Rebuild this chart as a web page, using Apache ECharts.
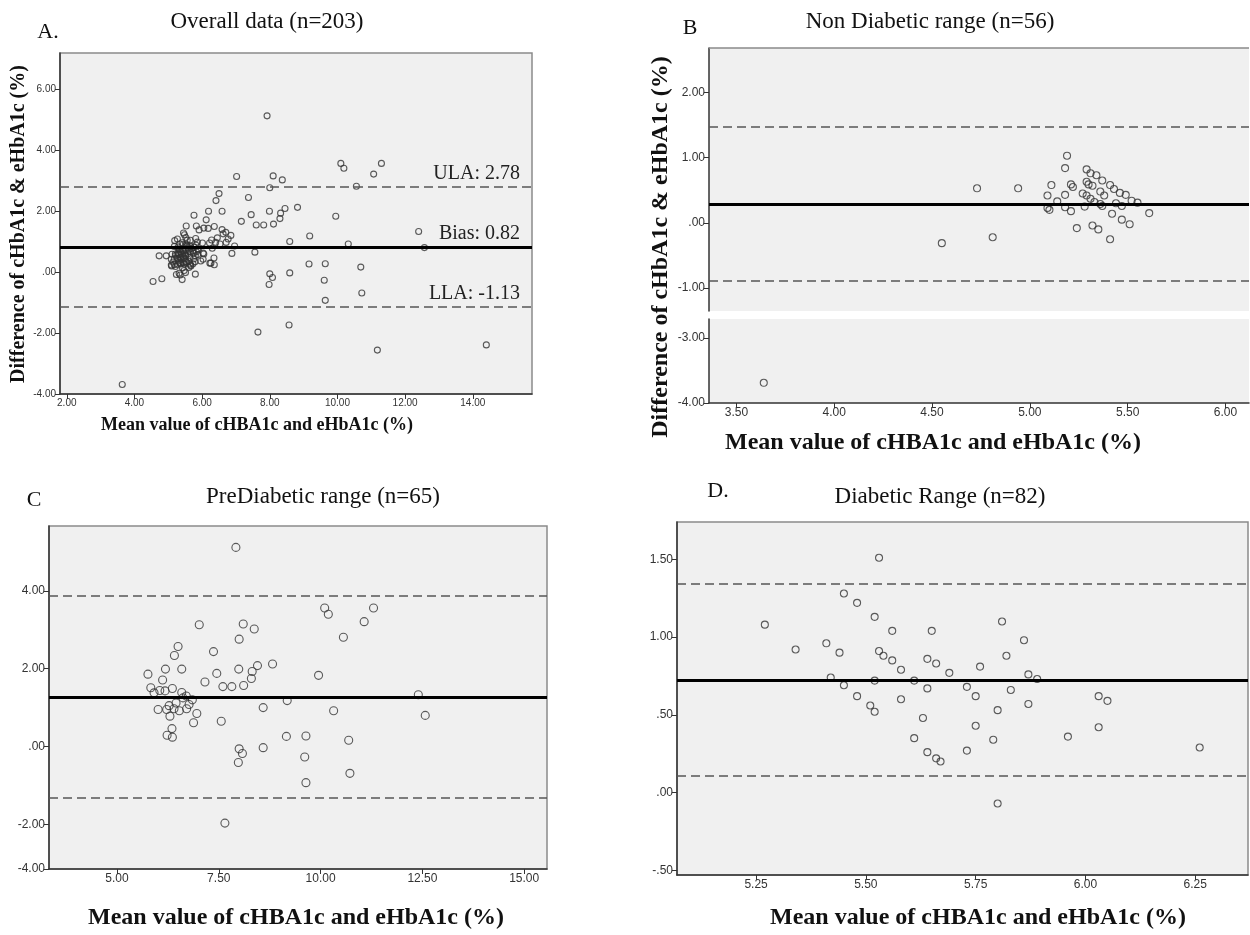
<!DOCTYPE html>
<html>
<head>
<meta charset="utf-8">
<script src="https://cdn.jsdelivr.net/npm/echarts@6/dist/echarts.min.js"></script>
<style>
html, body { margin: 0; padding: 0; background: #fff; }
#chart { width: 1250px; height: 935px; }
</style>
</head>
<body>
<div id="chart"></div>
<script>
// points are [mean, difference]
const nonDiabetic = [
  [5.19, 1.03], [5.18, 0.84], [4.73, 0.53], [4.94, 0.53], [5.11, 0.58], [5.09, 0.42], [5.14, 0.33],
  [5.09, 0.23], [5.10, 0.20], [5.18, 0.24], [5.21, 0.18], [5.18, 0.43], [5.21, 0.59], [5.22, 0.55],
  [5.29, 0.82], [5.31, 0.76], [5.34, 0.73], [5.29, 0.63], [5.30, 0.59], [5.32, 0.57], [5.37, 0.65],
  [5.41, 0.58], [5.43, 0.52], [5.46, 0.46], [5.49, 0.43], [5.36, 0.48], [5.38, 0.42], [5.27, 0.45],
  [5.29, 0.42], [5.31, 0.37], [5.33, 0.32], [5.36, 0.29], [5.37, 0.26], [5.28, 0.25], [5.44, 0.30],
  [5.47, 0.26], [5.52, 0.34], [5.55, 0.31], [5.61, 0.15], [5.42, 0.14], [5.47, 0.05], [5.51, -0.02],
  [5.24, -0.08], [5.32, -0.04], [5.35, -0.10], [4.55, -0.31], [4.81, -0.22], [5.41, -0.25],
  [3.64, -3.69]
];
const preDiabetic = [
  [7.92, 5.12], [7.02, 3.13], [8.10, 3.15], [8.37, 3.02], [8.00, 2.76], [7.37, 2.44], [6.50, 2.57],
  [6.41, 2.34], [5.76, 1.86], [6.19, 1.99], [6.59, 1.99], [6.12, 1.71], [7.16, 1.66], [7.45, 1.88],
  [7.99, 1.99], [8.32, 1.93], [8.45, 2.08], [8.82, 2.12], [7.60, 1.54], [7.82, 1.54], [8.11, 1.57],
  [8.30, 1.75], [9.95, 1.83], [5.83, 1.51], [6.05, 1.44], [6.18, 1.43], [6.36, 1.49], [6.59, 1.39],
  [5.91, 1.38], [9.18, 1.18], [8.59, 1.00], [10.10, 3.56], [10.19, 3.40], [11.30, 3.56], [11.07, 3.21],
  [10.56, 2.81], [12.40, 1.33], [10.32, 0.92], [6.01, 0.95], [6.22, 0.95], [6.40, 0.97], [6.53, 0.92],
  [6.71, 0.97], [6.30, 0.78], [6.88, 0.61], [6.96, 0.85], [6.23, 0.29], [6.35, 0.46], [6.36, 0.24],
  [7.56, 0.65], [9.16, 0.26], [9.64, 0.27], [8.00, -0.06], [8.08, -0.18], [7.98, -0.41], [8.59, -0.03],
  [9.61, -0.27], [9.64, -0.93], [7.65, -1.97], [12.57, 0.80], [10.69, 0.16], [10.72, -0.69],
  [6.77, 1.08], [6.62, 1.25], [6.45, 1.12], [6.85, 1.20], [6.28, 1.05], [6.70, 1.30]
];
const diabetic = [
  [5.27, 1.08], [5.34, 0.92], [5.41, 0.96], [5.42, 0.74], [5.44, 0.90], [5.45, 1.28], [5.45, 0.69],
  [5.48, 1.22], [5.48, 0.62], [5.51, 0.56], [5.52, 0.72], [5.52, 1.13], [5.52, 0.52], [5.53, 1.51],
  [5.53, 0.91], [5.54, 0.88], [5.56, 1.04], [5.56, 0.85], [5.58, 0.79], [5.61, 0.35], [5.58, 0.60],
  [5.61, 0.72], [5.63, 0.48], [5.64, 0.86], [5.64, 0.67], [5.65, 1.04], [5.64, 0.26], [5.66, 0.83],
  [5.66, 0.22], [5.67, 0.20], [5.69, 0.77], [5.73, 0.68], [5.73, 0.27], [5.75, 0.62], [5.75, 0.43],
  [5.76, 0.81], [5.79, 0.34], [5.80, 0.53], [5.80, -0.07], [5.81, 1.10], [5.82, 0.88], [5.83, 0.66],
  [5.86, 0.98], [5.87, 0.76], [5.87, 0.57], [5.89, 0.73], [5.96, 0.36], [6.03, 0.62], [6.03, 0.42],
  [6.05, 0.59], [6.26, 0.29]
];
// points only seen in the overall plot
const overallExtra = [[11.18, -2.56], [14.40, -2.39], [8.57, -1.74]];
const overall = nonDiabetic.concat(preDiabetic, diabetic, overallExtra);

// [ULA, bias, LLA]
const limitsA = [2.78, 0.82, -1.13];
const limitsB = [1.48, 0.29, -0.89];
const limitsC = [3.87, 1.26, -1.33];
const limitsD = [1.34, 0.72, 0.11];

const xTicksA = [2, 4, 6, 8, 10, 12, 14];
const yTicksA = [-4, -2, 0, 2, 4, 6];
const xTicksB = [3.5, 4, 4.5, 5, 5.5, 6];
const yTicksBTop = [-1, 0, 1, 2];
const yTicksBBottom = [-4, -3];
const xTicksC = [5, 7.5, 10, 12.5, 15];
const yTicksC = [-2, 0, 2, 4];
const xTicksD = [5.25, 5.5, 5.75, 6, 6.25];
const yTicksD = [-0.5, 0, 0.5, 1, 1.5];

const titles = ['Overall data (n=203)', 'Non Diabetic range (n=56)', 'PreDiabetic range (n=65)', 'Diabetic Range (n=82)'];
const xName = 'Mean value of cHBA1c and eHbA1c (%)';
const yName = 'Difference of cHbA1c & eHbA1c (%)';

function fmt(v) {
  if (Math.abs(v) < 1e-9) return '.00';
  let s = Math.abs(v).toFixed(2);
  if (s[0] === '0') s = s.slice(1);
  return (v < 0 ? '-' : '') + s;
}

const serif = '"Liberation Serif", "Times New Roman", serif';
const sans = '"Liberation Sans", Arial, sans-serif';

function gridBox(left, top, width, height, border) {
  return {
    left: left, top: top, width: width, height: height,
    show: true, backgroundColor: '#f0f0f0',
    borderColor: border === false ? '#f0f0f0' : '#8a8a8a', borderWidth: border === false ? 0 : 1.5
  };
}

function valAxis(dim, gridIndex, min, max, ticks, opts) {
  opts = opts || {};
  return Object.assign({
    type: 'value', gridIndex: gridIndex, min: min, max: max,
    position: dim === 'x' ? 'bottom' : 'left',
    splitLine: { show: false },
    axisLine: { show: true, onZero: false, lineStyle: { color: '#333', width: 1.5 } },
    axisTick: { show: true, length: 5, customValues: ticks, lineStyle: { color: '#333' } },
    axisLabel: {
      show: true, customValues: ticks, formatter: fmt, color: '#333',
      fontFamily: sans, fontSize: opts.labelSize || 11, margin: 4
    }
  }, opts.extra || {});
}

function limitLines(lim, withLabels) {
  const dashed = { type: [9, 5], color: '#555', width: 1.5 };
  const lab = function (txt) {
    return withLabels ? {
      show: true, position: 'insideEndTop', formatter: txt, distance: 3,
      padding: [0, 9, 0, 0], fontFamily: serif, fontSize: 20, color: '#222'
    } : { show: false };
  };
  return {
    symbol: 'none', silent: true, animation: false,
    data: [
      { yAxis: lim[0], lineStyle: dashed, label: lab('ULA: ' + lim[0].toFixed(2)) },
      { yAxis: lim[1], lineStyle: { type: 'solid', color: '#000', width: 3 }, label: lab('Bias: ' + lim[1].toFixed(2)) },
      { yAxis: lim[2], lineStyle: dashed, label: lab('LLA: ' + lim[2].toFixed(2)) }
    ]
  };
}

function dots(data, i, size, lines) {
  return {
    type: 'scatter', xAxisIndex: i, yAxisIndex: i, data: data,
    symbol: 'circle', symbolSize: size,
    itemStyle: { color: 'rgba(0,0,0,0)', borderColor: '#333', borderWidth: 1.1 },
    markLine: lines, z: 3
  };
}

function label(txt, x, y, size, bold, rotate) {
  return {
    type: 'text', x: x, y: y, rotation: rotate ? Math.PI / 2 : 0, z: 10,
    style: {
      text: txt, fill: '#111', align: 'center', verticalAlign: 'middle',
      font: (bold ? 'bold ' : '') + size + 'px ' + serif
    }
  };
}

const myChart = echarts.init(document.getElementById('chart'));

const option = {
  backgroundColor: '#fff',
  animation: false,
  graphic: [
    label(titles[0], 267, 22, 23, false),
    label(titles[1], 930, 22, 23, false),
    label(titles[2], 323, 497, 23, false),
    label(titles[3], 940, 497, 23, false),
    label('A.', 48, 32, 22, false),
    label('B', 690, 28, 22, false),
    label('C', 34, 500, 22, false),
    label('D.', 718, 491, 22, false),
    label(xName, 257, 425, 18, true),
    label(yName, 19, 224, 20, true, true),
    label(xName, 933, 443, 24, true),
    label(yName, 661, 247, 24, true, true),
    label(xName, 296, 918, 24, true),
    label(xName, 978, 918, 24, true),
    { type: 'line', z: 10, shape: { x1: 709, y1: 48, x2: 1249, y2: 48 }, style: { stroke: '#8a8a8a', lineWidth: 1.5 } }
  ],
  grid: [
    gridBox(60, 53, 472, 341),
    gridBox(709, 48, 540, 263, false),
    gridBox(709, 319, 540, 84, false),
    gridBox(49, 526, 498, 343),
    gridBox(677, 522, 571, 353)
  ],
  xAxis: [
    valAxis('x', 0, 1.8, 15.75, xTicksA, { labelSize: 10 }),
    valAxis('x', 1, 3.36, 6.12, xTicksB, { extra: { axisLabel: { show: false }, axisTick: { show: false }, axisLine: { show: false } } }),
    valAxis('x', 2, 3.36, 6.12, xTicksB, { labelSize: 12 }),
    valAxis('x', 3, 3.33, 15.56, xTicksC, { labelSize: 12 }),
    valAxis('x', 4, 5.07, 6.37, xTicksD, { labelSize: 12 })
  ],
  yAxis: [
    valAxis('y', 0, -4, 7.18, yTicksA, { labelSize: 10 }),
    valAxis('y', 1, -1.35, 2.68, yTicksBTop, { labelSize: 12 }),
    valAxis('y', 2, -4, -2.71, yTicksBBottom, { labelSize: 12 }),
    valAxis('y', 3, -3.15, 5.67, yTicksC, { labelSize: 12 }),
    valAxis('y', 4, -0.53, 1.74, yTicksD, { labelSize: 12 })
  ],
  series: [
    dots(overall, 0, 6, limitLines(limitsA, true)),
    dots(nonDiabetic.filter(p => p[1] > -2), 1, 7, limitLines(limitsB, false)),
    dots(nonDiabetic.filter(p => p[1] <= -2), 2, 7, null),
    dots(preDiabetic, 3, 8, limitLines(limitsC, false)),
    dots(diabetic, 4, 7, limitLines(limitsD, false))
  ]
};

// C's bottom tick reads -4.00 in the source figure
option.yAxis[3].axisLabel.customValues = [-3.15].concat(yTicksC);
option.yAxis[3].axisLabel.formatter = v => (v < -3 ? '-4.00' : fmt(v));
option.yAxis[3].axisTick.customValues = [-3.15].concat(yTicksC);

option && myChart.setOption(option);
</script>
</body>
</html>
